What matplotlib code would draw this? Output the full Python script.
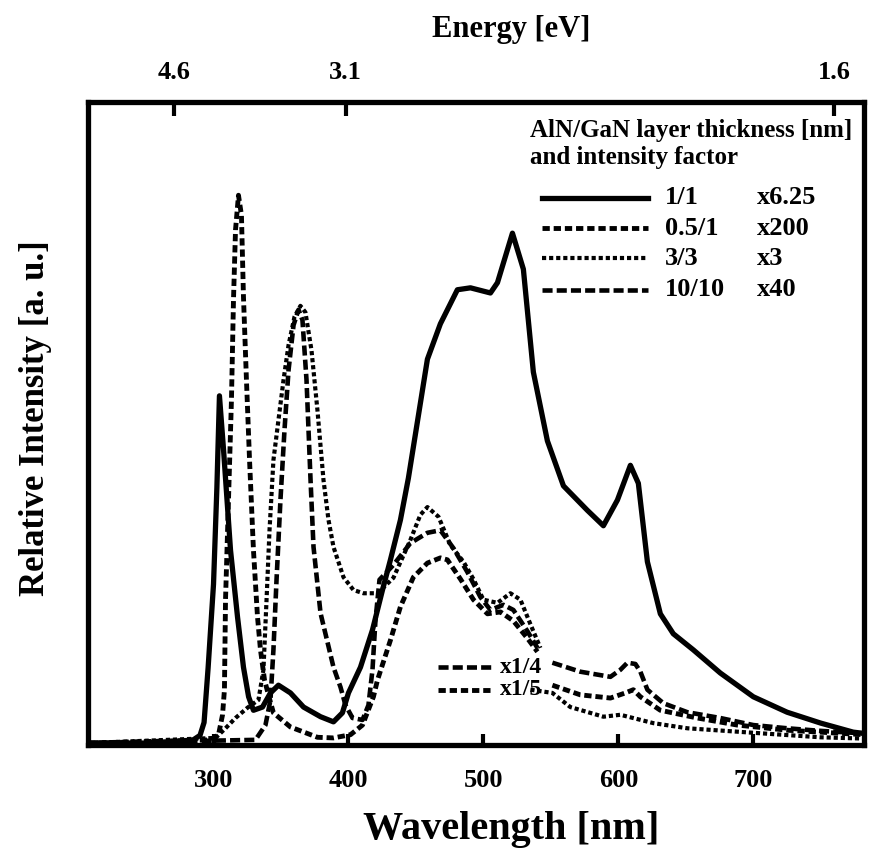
import matplotlib
matplotlib.use('Agg')
import matplotlib.pyplot as plt

plt.rcParams['font.family'] = ['Liberation Serif', 'DejaVu Serif']
plt.rcParams['font.weight'] = 'bold'

# 1/1 sample (solid), x6.25
wl_11 = [207, 260, 285, 290, 293, 296, 300, 302.5, 304.4, 307.4, 312.6, 317.8, 322.2, 326,
         329.6, 336.3, 342.2, 348.1, 357, 366.7, 379.3, 388.9, 395.5, 400, 408.9, 417.8,
         425.2, 431.1, 438.5, 444.4, 458.5, 468.1, 480.7, 490.4, 505.2, 510.4, 521.5, 529.6,
         537, 547.4, 559.3, 577, 588.9, 599.3, 608.9, 614.8, 621.5, 631.1, 640.7, 655.5,
         675.5, 700, 725, 750, 774, 782]
int_11 = [0.3, 0.3, 0.8, 1.5, 3.5, 12, 25, 40, 54.3, 46, 30.3, 19.9, 12.1, 7.5,
          5.4, 5.9, 8.1, 9.3, 8.1, 5.9, 4.4, 3.6, 5, 8.1, 12.1, 17.9,
          24.1, 28.8, 35, 41.5, 60, 65.5, 70.8, 71.1, 70.3, 71.9, 79.6, 74,
          58, 47.3, 40.3, 36.5, 34.1, 38.1, 43.5, 40.7, 28.5, 20.4, 17.3, 14.8,
          11.2, 7.5, 5.1, 3.4, 2.0, 1.8]

# 0.5/1 sample, x200
wl_051 = [207, 297.8, 303.7, 306.7, 308.1, 308.9, 311.1, 313.3, 314.8, 316.3, 318.5, 320.7,
          322.2, 324.4, 326.7, 329.6, 332.6, 334.8, 337.8, 340.7, 344.4, 357, 377, 388.9,
          401.5, 410.4, 418.5, 421.5, 431.1, 438.5, 448.1, 458.5, 468.1, 473.3, 483, 492.6,
          503, 512.6, 522.2, 532.6, 540]
int_051 = [0.3, 0.8, 1.6, 4.7, 8.6, 22.6, 38.1, 53.7, 69.2, 80.1, 85.5, 82.4,
           69.7, 56.8, 44.3, 30.3, 19.9, 14.8, 10.1, 7.8, 5.0, 2.8, 1.2, 1.1,
           1.6, 3.1, 7.5, 10.1, 16.3, 21.5, 26.1, 28.3, 29.1, 28.8, 25.8, 22.6,
           20.4, 20.7, 19.3, 16.6, 14.5]

# 3/3 sample, x3
wl_33 = [207, 301.5, 308.9, 316.3, 325.2, 333.3, 337, 339.3, 341.5, 344.4, 348.1, 351.9,
         355.6, 360, 364.4, 368.1, 372.6, 377, 381.5, 385.2, 388.9, 396.3, 403.7, 411.1,
         421.5, 433.3, 445.9, 453.3, 458.5, 466.7, 475.5, 485.2, 492.6, 500, 510.4, 520,
         527.4, 534.8, 542.2]
int_33 = [0.3, 1.1, 2.6, 4.2, 5.8, 7, 11.7, 22.6, 33.4, 44.3, 50.5, 56.8,
          62.2, 66.6, 68.3, 67.3, 61.4, 52.1, 41.2, 35, 30.8, 26.1, 24.1, 23.6,
          23.6, 26, 31.9, 35.8, 37, 35.5, 31.1, 28.5, 25.8, 22.6, 22.1, 23.6,
          22.6, 18.8, 15.1]

# 10/10 sample, x40
wl_1010 = [207, 331.1, 338.5, 342.2, 344.4, 346.7, 349.6, 352.6, 355.6, 359.3, 363, 365.9,
           368.9, 371.9, 374.1, 379.3, 388.9, 394.1, 397.8, 403, 410.4, 414.8, 417.8, 420,
           423, 433.3, 445.9, 458.5, 468.1, 477.8, 488.1, 497.8, 505.2, 514.8, 522.2,
           532.6, 540]
int_1010 = [0.3, 0.8, 3.1, 7, 14.8, 25.7, 38.1, 49, 58.3, 65.3, 67.7, 66.1,
            56.8, 41.2, 30.8, 20.5, 12.1, 9, 6.2, 4.2, 3.9, 6.2, 11.7, 19.4,
            25.7, 28, 31.4, 33, 33.4, 30.6, 26.9, 23, 21, 21.8, 21,
            17.7, 15.1]

# long-wavelength parts drawn at reduced scale
wl_q4 = [551.1, 571.8, 594.1, 601.5, 606.7, 612.6, 616.3, 621.5, 633.3, 651.1, 675.5,
         700, 725.2, 749.6, 774, 782]
int_q4 = [12.8, 11.4, 10.6, 11.7, 12.8, 12.6, 11.4, 8.6, 6.5, 5.1, 4.2,
          3.1, 2.6, 2.2, 1.9, 1.8]
wl_q5 = [551.1, 571.8, 594.1, 605.2, 611.1, 616.3, 631.1, 658.5, 688.1, 725.2, 774, 782]
int_q5 = [9.3, 7.8, 7.3, 8.1, 8.6, 7.5, 5.4, 4.2, 3.1, 2.3, 1.7, 1.6]
wl_33_tail = [534.8, 551.1, 564.4, 588.9, 601.5, 625.9, 651.1, 700, 749.6, 782]
int_33_tail = [8.6, 8.1, 5.9, 4.4, 4.7, 3.4, 2.6, 1.9, 1.2, 1.0]

samples = ['1/1', '0.5/1', '3/3', '10/10']
factors = ['x6.25', 'x200', 'x3', 'x40']
wl_ticks = [300, 400, 500, 600, 700]
energy_labels = ['4.6', '3.1', '1.6']
energy_tick_nm = [271, 398, 760]

sty_11 = dict(color='black', lw=3.8, linestyle='-')
sty_051 = dict(color='black', lw=3.5, linestyle=(0, (1.5, 0.8)))
sty_33 = dict(color='black', lw=3.0, linestyle=(0, (1.0, 0.7)))
sty_1010 = dict(color='black', lw=3.3, linestyle=(0, (2.2, 0.9)))

fig = plt.figure(figsize=(8.72, 8.52), dpi=100)
ax = fig.add_axes([88 / 872, 1 - 745 / 852, 776 / 872, 643 / 852])

ax.plot(wl_051, int_051, **sty_051)
ax.plot(wl_33, int_33, **sty_33)
ax.plot(wl_1010, int_1010, **sty_1010)
ax.plot(wl_q4, int_q4, **sty_1010)
ax.plot(wl_q5, int_q5, **sty_051)
ax.plot(wl_33_tail, int_33_tail, **sty_33)
ax.plot(wl_11, int_11, **sty_11)

ax.set_xlim(207, 782)
ax.set_ylim(0, 100)
ax.set_yticks([])
ax.set_xticks(wl_ticks)
ax.tick_params(axis='x', direction='in', length=8, width=3, labelsize=19, pad=17)
for s in ax.spines.values():
    s.set_linewidth(3.8)

ax.set_xlabel('Wavelength [nm]', fontsize=29, fontweight='bold', va='center')
ax.xaxis.set_label_coords(0.545, -(830 - 745) / 643)
ax.set_ylabel('Relative Intensity [a. u.]', fontsize=25, fontweight='bold', va='center')
ax.yaxis.set_label_coords((35 - 88) / 776, (745 - 418) / 643)

top = ax.secondary_xaxis('top')
top.set_xticks(energy_tick_nm, labels=energy_labels)
top.tick_params(direction='in', length=10, width=3, labelsize=19, pad=13)
fig.text(511 / 872, 1 - 30 / 852, 'Energy [eV]', fontsize=22, fontweight='bold',
         ha='center', va='center')

# legend drawn by hand (header, sample lines, two text columns)
ax.text(0.570, 0.956, 'AlN/GaN layer thickness [nm]', transform=ax.transAxes,
        fontsize=18, va='center', ha='left')
ax.text(0.570, 0.914, 'and intensity factor', transform=ax.transAxes,
        fontsize=18, va='center', ha='left')
rows = [0.851, 0.804, 0.757, 0.708]
for y, lab, fac, sty in zip(rows, samples, factors, [sty_11, sty_051, sty_33, sty_1010]):
    ax.plot([0.585, 0.722], [y, y], transform=ax.transAxes, **sty)
    ax.text(0.744, y, lab, transform=ax.transAxes, fontsize=19, va='center')
    ax.text(0.862, y, fac, transform=ax.transAxes, fontsize=19, va='center')

for y, lab, sty in [(0.121, 'x1/4', sty_1010), (0.086, 'x1/5', sty_051)]:
    ax.plot([0.451, 0.522], [y, y], transform=ax.transAxes, **sty)
    ax.text(0.531, y, lab, transform=ax.transAxes, fontsize=17, va='center')

fig.savefig('out.png', dpi=100)
